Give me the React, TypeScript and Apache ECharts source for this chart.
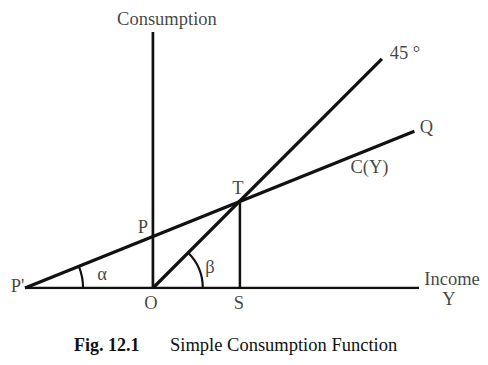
import React, { useEffect, useRef } from "react";
import * as echarts from "echarts";

// Axis extents (data units)
const xRange = [-5, 10.4];
const yRange = [0, 10];

// Lines
const incomeAxis = [[-5, 0], [10.4, 0]];
const consumptionAxis = [[0, 0], [0, 10]];
const line45 = [[0, 0], [8.95, 8.95]];
const consumptionFn = [[-5, 0], [10.22, 6.125]];
const tsLine = [[3.4, 3.4], [3.4, 0]];

// Named points
const pPrime = [-5, 0];
const pPoint = [0, 2.01];
const tPoint = [3.4, 3.4];
const oPoint = [0, 0];
const sPoint = [3.4, 0];
const qPoint = [10.22, 6.125];
const end45 = [8.95, 8.95];

// Angle arcs: vertex, ray end, radius
const arcs = [
  [pPrime[0], pPrime[1], qPoint[0], qPoint[1], 2.27],
  [oPoint[0], oPoint[1], end45[0], end45[1], 1.95],
];

const INK = "#111111";
const FONT = '"Liberation Serif", "Times New Roman", serif';

export default function App() {
  const ref = useRef<HTMLDivElement>(null);
  useEffect(() => {
    document.body.style.margin = "0";
    const chart = echarts.init(ref.current!, null, { renderer: "svg" });

    const labels = [
      { text: "P'", at: pPrime, offset: [-7.5, -2.5] },
      { text: "P", at: pPoint, offset: [-10, -10] },
      { text: "T", at: tPoint, offset: [-2, -13] },
      { text: "O", at: oPoint, offset: [-2, 15] },
      { text: "S", at: sPoint, offset: [-1, 15] },
      { text: "Q", at: qPoint, offset: [12, -4] },
      { text: "C(Y)", at: qPoint, offset: [-45, 36] },
      { text: "45 °", at: end45, offset: [23, -6] },
      { text: "α", at: pPrime, offset: [77, -14] },
      { text: "β", at: oPoint, offset: [57, -21] },
      { text: "Consumption", at: consumptionAxis[1], offset: [14, -13] },
      { text: "Income", at: incomeAxis[1], offset: [33, -9] },
      { text: "Y", at: incomeAxis[1], offset: [30, 11] },
    ];

    const lineSeries = (data: number[][], width = 2.8) => ({
      type: "line",
      data,
      symbol: "none",
      silent: true,
      lineStyle: { color: INK, width, cap: "butt" },
    });

    chart.setOption({
      animation: false,
      backgroundColor: "#ffffff",
      grid: { left: 25, right: 69, top: 32, bottom: 77 },
      xAxis: { type: "value", min: xRange[0], max: xRange[1], show: false },
      yAxis: { type: "value", min: yRange[0], max: yRange[1], show: false },
      series: [
        lineSeries(incomeAxis, 2.7),
        lineSeries(consumptionAxis, 2.7),
        lineSeries(line45, 3.2),
        lineSeries(consumptionFn, 3.2),
        lineSeries(tsLine, 2.5),
        {
          type: "custom",
          silent: true,
          data: arcs,
          renderItem: (params: any, api: any) => {
            const c = api.coord([api.value(0), api.value(1)]);
            const e = api.coord([api.value(2), api.value(3)]);
            const r = api.size([api.value(4), 0])[0];
            const ang = Math.atan2(c[1] - e[1], e[0] - c[0]);
            return {
              type: "arc",
              shape: { cx: c[0], cy: c[1], r, startAngle: -ang, endAngle: 0, clockwise: true },
              style: { stroke: INK, fill: "none", lineWidth: 2.2 },
            };
          },
        },
        {
          type: "scatter",
          silent: true,
          symbolSize: 1,
          itemStyle: { color: "transparent" },
          data: labels.map((l) => ({
            value: l.at,
            label: {
              show: true,
              formatter: l.text,
              position: "inside",
              offset: l.offset,
              align: "center",
              verticalAlign: "middle",
              color: INK,
              fontFamily: FONT,
              fontSize: 18.5,
            },
          })),
        },
      ],
      graphic: [
        {
          type: "text",
          x: 74,
          y: 345,
          style: {
            text: "Fig. 12.1",
            fill: INK,
            font: `bold 18px ${FONT}`,
            verticalAlign: "middle",
          },
        },
        {
          type: "text",
          x: 170,
          y: 345,
          style: {
            text: "Simple Consumption Function",
            fill: INK,
            font: `18.5px ${FONT}`,
            verticalAlign: "middle",
          },
        },
      ],
    });
    return () => chart.dispose();
  }, []);
  return <div ref={ref} style={{ width: 488, height: 365 }} />;
}
